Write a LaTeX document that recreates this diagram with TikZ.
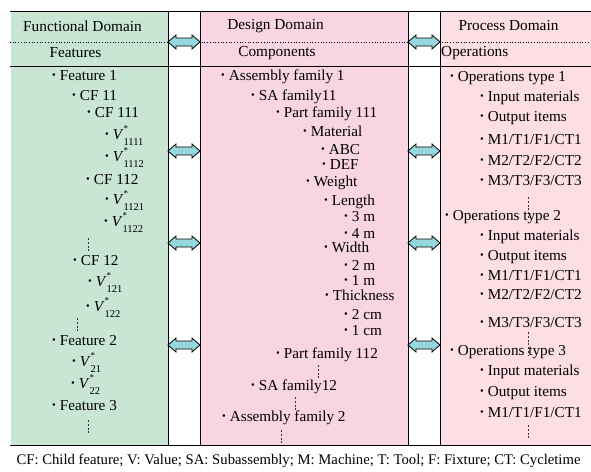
\documentclass[tikz,border=0pt]{standalone}
\usepackage{fontspec}
\setmainfont{Liberation Serif}
\definecolor{fgreen}{RGB}{200,230,211}
\definecolor{dpink}{RGB}{249,212,227}
\definecolor{ppink}{RGB}{252,222,228}
\definecolor{arrcyan}{RGB}{150,215,222}
\newcommand{\bul}{\raisebox{0.12em}{\fontsize{10.5pt}{11pt}\selectfont •}\hspace{4pt}}
\newcommand{\Vs}[1]{\textit{V}\kern0pt\rlap{\raisebox{0.5em}{\fontsize{9pt}{9pt}\selectfont *}}\raisebox{-0.4em}{\fontsize{10.5pt}{10pt}\selectfont #1}}
\begin{document}
\begin{tikzpicture}[x=1pt,y=-1pt,
  item/.style={anchor=mid west, inner sep=0pt, font=\fontsize{15.2pt}{17pt}\selectfont},
  head/.style={inner sep=0pt, font=\fontsize{15.3pt}{18pt}\selectfont},
  vdots/.style={draw=black!80, line width=0.9pt, dash pattern=on 2pt off 1.8pt},
  rule/.style={draw=black, line width=0.9pt},
  dblarr/.pic={\draw[black, line width=0.8pt, fill=arrcyan]
     (-16,0) -- (-8,-7) -- (-8,-4) -- (8,-4) -- (8,-7) -- (16,0) -- (8,7) -- (8,4) -- (-8,4) -- (-8,7) -- cycle;}
]
\useasboundingbox (0,0) rectangle (591,471);
% column fills
\fill[fgreen] (11,11) rectangle (168,445);
\fill[dpink] (200,11) rectangle (408,445);
\fill[ppink] (440,11) rectangle (591,445);
% rules
\draw[rule] (10,11) -- (591,11);
\draw[black, line width=0.7pt, dotted] (10,42) -- (591,42);
\draw[rule] (10,66) -- (591,66);
\draw[rule] (10,445) -- (591,445);
\foreach \xx in {168,200,408,440} \draw[rule] (\xx,11) -- (\xx,445);
% headers
\node[head] (fd) at (82.5,26) {Functional Domain};
\node[head] (ff) at (75.5,53) {Features};
\node[head] (dd) at (275.5,26) {Design Domain};
\node[head] (dc) at (277,53) {Components};
\node[head] (pd) at (508.5,26) {Process Domain};
\node[head, anchor=west] (po) at (441,53) {Operations};
% functional column
\node[item] (f1) at (52,78) {\bul Feature 1};
\node[item] (cf11) at (72,98) {\bul CF 11};
\node[item] (cf111) at (87,115) {\bul CF 111};
\node[item] (v1111) at (105,137) {\bul\Vs{1111}};
\node[item] (v1112) at (105,159) {\bul\Vs{1112}};
\node[item] (cf112) at (86,182) {\bul CF 112};
\node[item] (v1121) at (105,202) {\bul\Vs{1121}};
\node[item] (v1122) at (104,224) {\bul\Vs{1122}};
\node[item] (cf12) at (73,263) {\bul CF 12};
\node[item] (v121) at (88,284) {\bul\Vs{121}};
\node[item] (v122) at (86,309) {\bul\Vs{122}};
\node[item] (f2) at (52,343) {\bul Feature 2};
\node[item] (v21) at (72,364) {\bul\Vs{21}};
\node[item] (v22) at (71,386) {\bul\Vs{22}};
\node[item] (f3) at (52,408) {\bul Feature 3};
\draw[vdots] (88,238) -- (88,252);
\draw[vdots] (77,318) -- (77,333);
\draw[vdots] (88,420) -- (88,433);
% design column
\node[item] (af1) at (221,78) {\bul Assembly family 1};
\node[item] (sa11) at (251,98) {\bul SA family11};
\node[item] (pf111) at (276,115) {\bul Part family 111};
\node[item] (mat) at (303,134) {\bul Material};
\node[item] (abc) at (321,152) {\bul ABC};
\node[item] (def) at (322,167) {\bul DEF};
\node[item] (wei) at (306,184) {\bul Weight};
\node[item] (len) at (324,203) {\bul Length};
\node[item] (l3) at (344,219) {\bul 3 m};
\node[item] (l4) at (344,236) {\bul 4 m};
\node[item] (wid) at (324,250) {\bul Width};
\node[item] (w2) at (344,268) {\bul 2 m};
\node[item] (w1) at (344,283) {\bul 1 m};
\node[item] (thi) at (325,298) {\bul Thickness};
\node[item] (t2) at (344,317) {\bul 2 cm};
\node[item] (t1) at (344,333) {\bul 1 cm};
\node[item] (pf112) at (276,356) {\bul Part family 112};
\node[item] (sa12) at (251,388) {\bul SA family12};
\node[item] (af2) at (222,419) {\bul Assembly family 2};
\draw[vdots] (318,365) -- (318,378);
\draw[vdots] (295,397) -- (295,410);
\draw[vdots] (281,430) -- (281,445);
% process column
\node[item] (op1) at (450,79) {\bul Operations type 1};
\node[item] (in1) at (480,99) {\bul Input materials};
\node[item] (out1) at (480,119) {\bul Output items};
\node[item] (m11) at (480,142) {\bul M1/T1/F1/CT1};
\node[item] (m12) at (480,163) {\bul M2/T2/F2/CT2};
\node[item] (m13) at (480,183) {\bul M3/T3/F3/CT3};
\node[item] (op2) at (445,218) {\bul Operations type 2};
\node[item] (in2) at (480,238) {\bul Input materials};
\node[item] (out2) at (480,258) {\bul Output items};
\node[item] (m21) at (480,278) {\bul M1/T1/F1/CT1};
\node[item] (m22) at (480,297) {\bul M2/T2/F2/CT2};
\node[item] (m23) at (480,325) {\bul M3/T3/F3/CT3};
\node[item] (op3) at (450,353) {\bul Operations type 3};
\node[item] (in3) at (480,373) {\bul Input materials};
\node[item] (out3) at (480,394) {\bul Output items};
\node[item] (m31) at (480,415) {\bul M1/T1/F1/CT1};
\draw[vdots] (528,197) -- (528,218);
\draw[vdots] (528,332) -- (528,356);
\draw[vdots] (528,425) -- (528,438);
% arrows
\foreach \yy [count=\i] in {42,151,243,345} {
  \pic (la\i) at (184,\yy) {dblarr};
  \pic (ra\i) at (424,\yy) {dblarr};
}
% caption
\node[head, font=\fontsize{14.7pt}{17pt}\selectfont] (cap) at (298.5,461) {CF: Child feature; V: Value; SA: Subassembly; M: Machine; T: Tool; F: Fixture; CT: Cycletime};
\end{tikzpicture}
\end{document}
